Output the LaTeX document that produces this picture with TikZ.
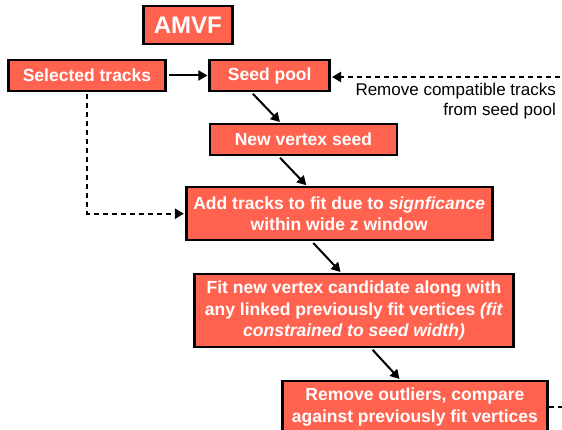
\documentclass[tikz,border=0pt]{standalone}
\usepackage{fontspec}
\setmainfont{Liberation Sans}
\usetikzlibrary{arrows.meta}
\definecolor{amvfred}{RGB}{255,99,80}

\begin{document}
\begin{tikzpicture}[
    x=1pt, y=-1pt,
    box/.style={draw=black, line width=2.6pt, fill=amvfred, text=white, font=\fontsize{17.5}{21.5}\selectfont\bfseries, align=center, inner sep=0pt},
    arrow/.style={-{Triangle[length=9pt,width=10pt]}, line width=2pt, shorten <=2pt, shorten >=1pt},
    dasharrow/.style={arrow, line width=2.2pt, dash pattern=on 5pt off 4pt}
]
\useasboundingbox (0,0) rectangle (562,430);
\clip (0,0) rectangle (562,430);

\node[box, minimum width=89pt, minimum height=38pt, font=\fontsize{24}{26}\selectfont\bfseries] (title) at (187.8,25) {AMVF};
\node[box, minimum width=157pt, minimum height=31pt] (sel) at (87,75.5) {Selected tracks};
\node[box, minimum width=120pt, minimum height=31pt] (pool) at (269.7,75.5) {Seed pool};
\node[box, minimum width=187pt, minimum height=31pt] (seed) at (303.4,139.5) {New vertex seed};
\node[box, minimum width=306pt, minimum height=53pt] (add) at (339.2,213.7) {Add tracks to fit due to \textit{signficance}\\within wide z window};
\node[box, minimum width=319pt, minimum height=73pt] (fit) at (354,310.5) {Fit new vertex candidate along with\\any linked previously fit vertices \textit{(fit}\\\textit{constrained to seed width)}};
\node[box, minimum width=265pt, minimum height=52pt] (rem) at (414.9,407) {Remove outliers, compare\\against previously fit vertices};

\node[anchor=north east, align=right, inner sep=0pt, font=\fontsize{17}{20}\selectfont] (note) at (556,83) {Remove compatible tracks\\from seed pool};
\coordinate (loopin) at (562,77);
\coordinate (loopout) at (562,407);

\draw[arrow] (sel) -- (pool);
\draw[dasharrow] (loopin) -- (pool.east |- loopin);
\draw[arrow] ([xshift=43pt]pool.south west) -- ([xshift=72pt]seed.north west);
\draw[arrow] ([xshift=70pt]seed.south west) -- ([xshift=122pt]add.north west);
\draw[dasharrow] (sel.south) |- (add.west);
\draw[arrow] ([xshift=127pt]add.south west) -- ([xshift=148pt]fit.north west);
\draw[arrow] ([xshift=178pt]fit.south west) -- ([xshift=119pt]rem.north west);
\draw[line width=2.2pt, dash pattern=on 5pt off 4pt] (rem.east) -- (loopout);
\end{tikzpicture}
\end{document}
